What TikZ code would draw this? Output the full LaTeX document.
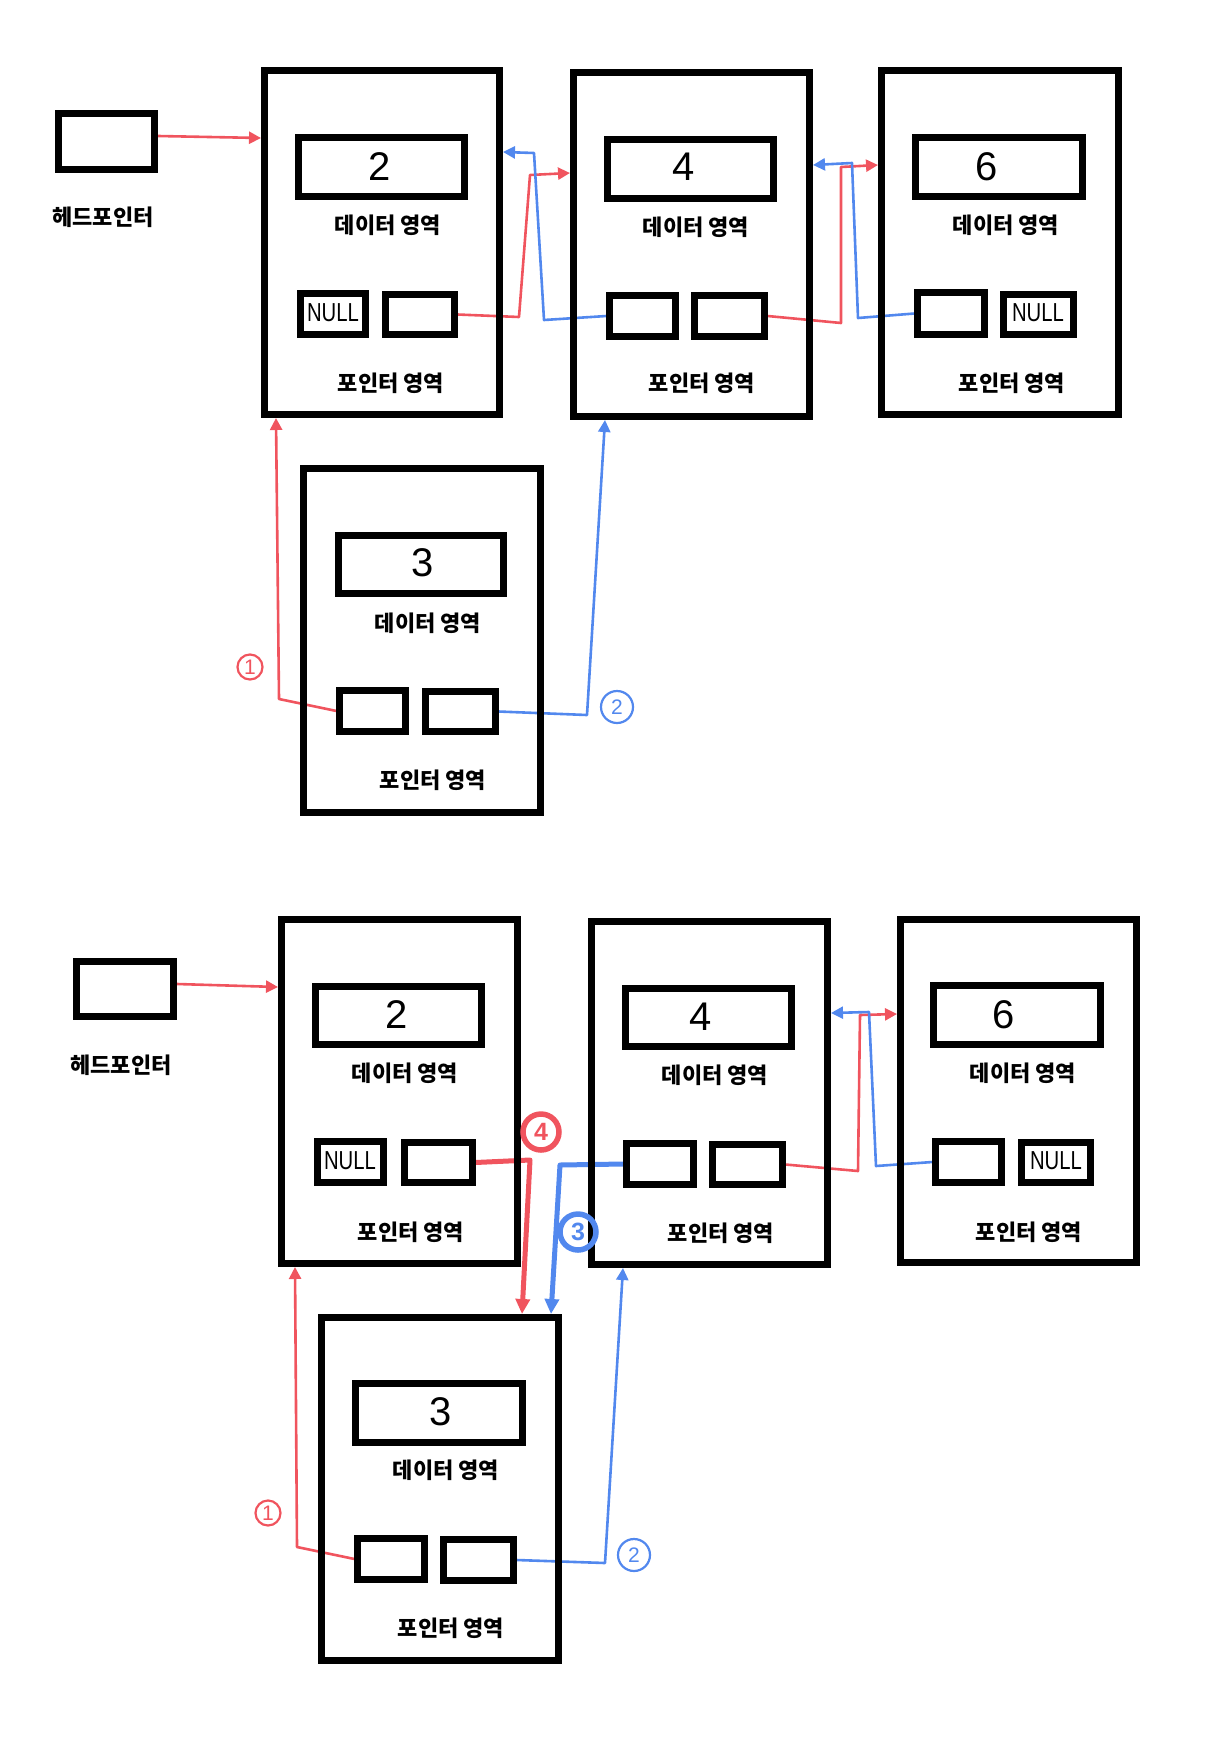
\documentclass[tikz,border=0pt]{standalone}
\usepackage{fontspec}
\setmainfont{Liberation Sans}
\newfontfamily\kr{Noto Sans CJK KR}
\usetikzlibrary{arrows.meta}
\definecolor{pred}{RGB}{240,84,94}
\definecolor{pblue}{RGB}{82,136,238}
\pgfdeclarelayer{bg}
\pgfsetlayers{bg,main}
\newcommand\mybox[6]{\node[#2, minimum width={#5-#3-7}, minimum height={#6-#4-7}] (#1) at ({(#3+#5)/2},{(#4+#6)/2}) {};}
\tikzset{
  outerbox/.style={draw, line width=7pt, outer sep=3.5pt, inner sep=0pt},
  innerbox/.style={draw, line width=6.5pt, outer sep=3pt, inner sep=0pt},
  lbl/.style={font=\kr\bfseries\fontsize{22}{24}\selectfont, inner sep=0pt},
  num/.style={font=\fontsize{40}{44}\selectfont, inner sep=0pt},
  nulltxt/.style={font=\fontsize{26}{28}\selectfont, inner sep=0pt, xscale=0.78},
  redline/.style={draw=pred, line width=2.6pt, line join=round, -{Triangle[length=12pt,width=12pt]}},
  blueline/.style={draw=pblue, line width=2.6pt, line join=round, -{Triangle[length=12pt,width=12pt]}},
  redthick/.style={draw=pred, line width=5pt, line join=round, -{Triangle[length=15pt,width=14pt]}},
  bluethick/.style={draw=pblue, line width=5pt, line join=round, -{Triangle[length=15pt,width=14pt]}},
  thincirc/.style={circle, draw=#1, text=#1, line width=2.2pt, inner sep=0pt, font=\fontsize{21}{22}\selectfont},
  boldcirc/.style={circle, draw=#1, text=#1, line width=5.5pt, inner sep=0pt, minimum size=36pt, font=\bfseries\fontsize{25}{26}\selectfont},
}
\begin{document}
\begin{tikzpicture}[x=1pt,y=-1pt]
\useasboundingbox (0,0) rectangle (1214,1756);
% ---------------- TOP ----------------
\mybox{thead}{outerbox}{55}{110}{158}{173}
\node[lbl] (theadl) at (103,217) {헤드포인터};
\mybox{t2}{outerbox}{261}{67}{503}{418}
\mybox{t2d}{innerbox}{295}{134}{468}{200}
\mybox{t2n}{innerbox}{297}{290}{369}{338}
\mybox{t2p}{innerbox}{382}{291}{458}{338}
\node[num] (t2v) at (380,167) {2};
\node[lbl] (t2dl) at (388,225) {데이터 영역};
\node[nulltxt] (t2nl) at (333,313) {NULL};
\node[lbl] (t2pl) at (391,383) {포인터 영역};

\mybox{t4}{outerbox}{570}{69}{813}{420}
\mybox{t4d}{innerbox}{604}{136}{777}{202}
\mybox{t4a}{innerbox}{606}{292}{679}{340}
\mybox{t4b}{innerbox}{691}{292}{768}{340}
\node[num] (t4v) at (684,167) {4};
\node[lbl] (t4dl) at (696,227) {데이터 영역};
\node[lbl] (t4pl) at (702,383) {포인터 영역};

\mybox{t6}{outerbox}{878}{67}{1122}{418}
\mybox{t6d}{innerbox}{912}{134}{1086}{200}
\mybox{t6a}{innerbox}{914}{289}{988}{338}
\mybox{t6n}{innerbox}{1000}{291}{1077}{338}
\node[num] (t6v) at (987,167) {6};
\node[lbl] (t6dl) at (1006,225) {데이터 영역};
\node[nulltxt] (t6nl) at (1038,313) {NULL};
\node[lbl] (t6pl) at (1012,383) {포인터 영역};

\mybox{t3}{outerbox}{300}{465}{544}{816}
\mybox{t3d}{innerbox}{335}{532}{507}{597}
\mybox{t3a}{innerbox}{336}{687}{409}{735}
\mybox{t3b}{innerbox}{422}{688}{499}{735}
\node[num] (t3v) at (423,563) {3};
\node[lbl] (t3dl) at (428,623) {데이터 영역};
\node[lbl] (t3pl) at (433,780) {포인터 영역};

\node[thincirc=pred, minimum size=25pt] (tc1) at (250,667) {1};
\node[thincirc=pblue, minimum size=32pt] (tc2) at (617,707) {2};

\begin{pgfonlayer}{bg}
\draw[redline] (thead.east |- 0,136) -- (t2.west |- 0,138);
\draw[redline] (t2p.east) -- (519,317) -- (530,175) -- (t4.west |- 0,173);
\draw[blueline] (t4a.west) -- (544,320) -- (534,153) -- (t2.east |- 0,152);
\draw[redline] (t4b.east) -- (841,323) -- (841,167) -- (t6.west |- 0,165);
\draw[blueline] (t6a.west) -- (858,318) -- (852,163) -- (t4.east |- 0,165);
\draw[redline] (t3a.west) -- (279,699) -- (t2.south -| 276,0);
\draw[blueline] (t3b.east) -- (587,715) -- (t4.south -| 605,0);
\end{pgfonlayer}

% ---------------- BOTTOM ----------------
\mybox{bhead}{outerbox}{73}{958}{177}{1020}
\node[lbl] (bheadl) at (121,1065) {헤드포인터};
\mybox{b2}{outerbox}{278}{916}{521}{1267}
\mybox{b2d}{innerbox}{312}{983}{485}{1048}
\mybox{b2n}{innerbox}{314}{1138}{387}{1186}
\mybox{b2p}{innerbox}{401}{1139}{476}{1186}
\node[num] (b2v) at (397,1015) {2};
\node[lbl] (b2dl) at (405,1073) {데이터 영역};
\node[nulltxt] (b2nl) at (350,1161) {NULL};
\node[lbl] (b2pl) at (411,1232) {포인터 영역};

\mybox{b4}{outerbox}{588}{918}{831}{1268}
\mybox{b4d}{innerbox}{622}{985}{795}{1050}
\mybox{b4a}{innerbox}{623}{1140}{697}{1188}
\mybox{b4b}{innerbox}{709}{1141}{786}{1188}
\node[num] (b4v) at (701,1017) {4};
\node[lbl] (b4dl) at (715,1075) {데이터 영역};
\node[lbl] (b4pl) at (721,1233) {포인터 영역};

\mybox{b6}{outerbox}{897}{916}{1140}{1266}
\mybox{b6d}{innerbox}{930}{982}{1104}{1048}
\mybox{b6a}{innerbox}{932}{1138}{1005}{1186}
\mybox{b6n}{innerbox}{1018}{1139}{1094}{1186}
\node[num] (b6v) at (1004,1015) {6};
\node[lbl] (b6dl) at (1023,1073) {데이터 영역};
\node[nulltxt] (b6nl) at (1056,1161) {NULL};
\node[lbl] (b6pl) at (1029,1232) {포인터 영역};

\mybox{b3}{outerbox}{318}{1314}{562}{1664}
\mybox{b3d}{innerbox}{352}{1380}{526}{1446}
\mybox{b3a}{innerbox}{354}{1535}{428}{1583}
\mybox{b3b}{innerbox}{440}{1536}{517}{1584}
\node[num] (b3v) at (441,1412) {3};
\node[lbl] (b3dl) at (446,1470) {데이터 영역};
\node[lbl] (b3pl) at (451,1628) {포인터 영역};

\node[thincirc=pred, minimum size=25pt] (bc1) at (268,1513) {1};
\node[thincirc=pblue, minimum size=32pt] (bc2) at (634,1555) {2};
\node[boldcirc=pblue] (bc3) at (578,1232) {3};
\node[boldcirc=pred] (bc4) at (541,1132) {4};

\begin{pgfonlayer}{bg}
\draw[redline] (bhead.east |- 0,984) -- (b2.west |- 0,987);
\draw[redline] (b4b.east) -- (858,1171) -- (860,1015) -- (b6.west |- 0,1014);
\draw[blueline] (b6a.west) -- (876,1166) -- (869,1012) -- (b4.east |- 0,1013);
\draw[redline] (b3a.west) -- (297,1547) -- (b2.south -| 295,0);
\draw[blueline] (b3b.east) -- (605,1563) -- (b4.south -| 623,0);
\draw[redthick] (b2p.east) -- (530,1160) -- (b3.north -| 522,0);
\draw[bluethick] (b4a.west) -- (560,1165) -- (b3.north -| 551,0);
\end{pgfonlayer}
\end{tikzpicture}
\end{document}
